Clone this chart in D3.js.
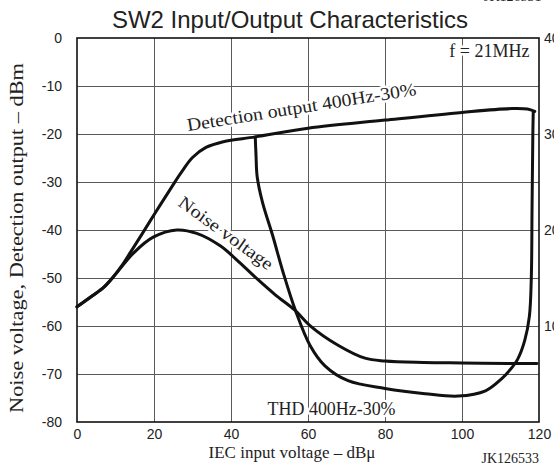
<!DOCTYPE html>
<html>
<head>
<meta charset="utf-8">
<script src="https://cdn.jsdelivr.net/npm/d3@7"></script>
<style>
  html, body { margin: 0; padding: 0; background: #fff; }
  svg { display: block; }
  .serif { font-family: "Liberation Serif", "Times New Roman", serif; fill: #222; }
  .sans { font-family: "Liberation Sans", Arial, sans-serif; fill: #222; }
</style>
</head>
<body>
<svg id="chart" width="554" height="466"></svg>
<script>
// ---------- data ----------
const xTicks = [0, 20, 40, 60, 80, 100, 120];
const yTicks = [0, -10, -20, -30, -40, -50, -60, -70, -80];
const rightTicks = [40, 30, 20, 10];

// Detection output 400Hz-30% (x: dBµ, y: dBm)
const detX = [0, 4, 7, 9.4, 11.5, 14, 17, 20.5, 24, 27, 30, 33.5, 38, 46.3, 60, 80, 100, 113, 117, 118.9];
const detY = [-56, -53.7, -51.9, -49.8, -47.6, -44.5, -40.7, -36.2, -31.8, -28.1, -24.9, -22.8, -21.6, -20.6, -18.8, -17.1, -15.5, -14.7, -14.8, -15.3];

// Noise voltage (x: dBµ, y: dBm)
const noiseX = [0, 4, 7, 9.4, 14.8, 19.8, 25.9, 31.1, 37.2, 42.4, 46.8, 51.5, 56.6, 60.5, 67.8, 74.8, 80, 90, 100, 112, 119.5];
const noiseY = [-56, -53.7, -51.9, -49.8, -44.7, -41.5, -40, -40.7, -43.3, -46.9, -50.2, -53.5, -56.7, -59.9, -64, -66.7, -67.3, -67.6, -67.7, -67.8, -67.8];

// THD 400Hz-30% (x: dBµ, y: % on right axis)
const thdX = [46.3, 46.5, 46.8, 48.2, 50.8, 53.6, 56.8, 60.5, 64.4, 70.4, 80, 90.4, 99, 106.1, 110.4, 112.3, 114.4, 116.3, 117.5, 118, 118.2, 118.4, 118.5];
const thdY = [29.7, 27.75, 25.55, 22.85, 19.45, 15.5, 11.55, 8, 5.85, 4.3, 3.5, 2.95, 2.7, 3.25, 4.55, 5.35, 6.5, 8.5, 11, 15, 22.5, 30, 32.25];

// ---------- layout ----------
const svg = d3.select("#chart");
const L = 77, R = 539, T = 38, B = 422;
const x = d3.scaleLinear().domain([0, 120]).range([L, R]);
const y = d3.scaleLinear().domain([-80, 0]).range([B, T]);
const yR = d3.scaleLinear().domain([0, 40]).range([B, T]);
const fmt = d => String(d);
const tickFont = "Liberation Sans, Arial, sans-serif";

// top remnant of the previous figure caption
svg.append("text").attr("class", "serif").attr("x", 484).attr("y", 1)
  .style("font-size", "14px").text("JK126531");

// title
svg.append("text").attr("class", "sans")
  .attr("x", 290).attr("y", 28).attr("text-anchor", "middle")
  .style("font-size", "24px").text("SW2 Input/Output Characteristics");

// grid
const grid = svg.append("g");
grid.append("g").attr("transform", `translate(0,${B})`)
  .call(d3.axisBottom(x).tickValues(xTicks.slice(1, -1)).tickSize(-(B - T)).tickFormat(""))
  .call(g => g.select(".domain").remove())
  .call(g => g.selectAll("line").attr("stroke", "#5a5a5a").attr("stroke-width", 1));
grid.append("g").attr("transform", `translate(${L},0)`)
  .call(d3.axisLeft(y).tickValues(yTicks.slice(1, -1)).tickSize(-(R - L)).tickFormat(""))
  .call(g => g.select(".domain").remove())
  .call(g => g.selectAll("line").attr("stroke", "#5a5a5a").attr("stroke-width", 1));

// axes labels
const ax = svg.append("g").attr("transform", `translate(0,${B})`)
  .call(d3.axisBottom(x).tickValues(xTicks).tickFormat(fmt).tickSize(0).tickPadding(7));
ax.select(".domain").remove();
ax.selectAll("text").style("font-size", "14px").attr("fill", "#222").style("font-family", tickFont);

const ay = svg.append("g").attr("transform", `translate(${L},0)`)
  .call(d3.axisLeft(y).tickValues(yTicks).tickFormat(fmt).tickSize(0).tickPadding(15));
ay.select(".domain").remove();
ay.selectAll("text").style("font-size", "14px").attr("fill", "#222").style("font-family", tickFont);

const ar = svg.append("g").attr("transform", `translate(${R},0)`)
  .call(d3.axisRight(yR).tickValues(rightTicks).tickFormat(fmt).tickSize(0).tickPadding(5));
ar.select(".domain").remove();
ar.selectAll("text").style("font-size", "14px").attr("fill", "#222").style("font-family", tickFont);

// frame
svg.append("rect").attr("x", L).attr("y", T).attr("width", R - L).attr("height", B - T)
  .attr("fill", "none").attr("stroke", "#111").attr("stroke-width", 1.6);

// curves
const lineL = d3.line().x(d => x(d[0])).y(d => y(d[1])).curve(d3.curveCatmullRom.alpha(0.5));
const lineR = d3.line().x(d => x(d[0])).y(d => yR(d[1])).curve(d3.curveCatmullRom.alpha(0.5));
const curves = svg.append("g").attr("fill", "none").attr("stroke", "#111")
  .attr("stroke-width", 3).attr("stroke-linejoin", "round").attr("stroke-linecap", "round");
curves.append("path").attr("d", lineL(detX.map((v, i) => [v, detY[i]])));
curves.append("path").attr("d", lineL(noiseX.map((v, i) => [v, noiseY[i]])));
curves.append("path").attr("d", lineR(thdX.map((v, i) => [v, thdY[i]])));

// in-plot labels with white halo
function label(txt, px, py, rot, size, len, anchor) {
  const t = svg.append("text").attr("class", "serif")
    .attr("transform", `translate(${px},${py}) rotate(${rot})`)
    .attr("text-anchor", anchor || "start")
    .style("font-size", size + "px")
    .attr("stroke", "#fff").attr("stroke-width", 5).attr("paint-order", "stroke")
    .attr("stroke-linejoin", "round")
    .text(txt);
  if (len) t.attr("textLength", len).attr("lengthAdjust", "spacingAndGlyphs");
  return t;
}
label("Detection output 400Hz-30%", x(28.8), y(-19.4), -9, 18, 232);
label("Noise voltage", x(26), y(-34.8), 36, 18, 112);
label("THD 400Hz-30%", x(49.5), y(-78.6), 0, 18, 128);
label("f = 21MHz", x(117.5), y(-3.9), 0, 18, null, "end");

// axis titles
svg.append("text").attr("class", "serif")
  .attr("transform", "translate(23,238) rotate(-90)")
  .attr("text-anchor", "middle").style("font-size", "19px")
  .attr("textLength", 350).attr("lengthAdjust", "spacingAndGlyphs")
  .text("Noise voltage, Detection output – dBm");
svg.append("text").attr("class", "serif")
  .attr("x", 292).attr("y", 458).attr("text-anchor", "middle").style("font-size", "17px")
  .text("IEC input voltage – dBμ");
svg.append("text").attr("class", "serif")
  .attr("x", 539).attr("y", 463).attr("text-anchor", "end").style("font-size", "14px")
  .text("JK126533");
</script>
</body>
</html>
